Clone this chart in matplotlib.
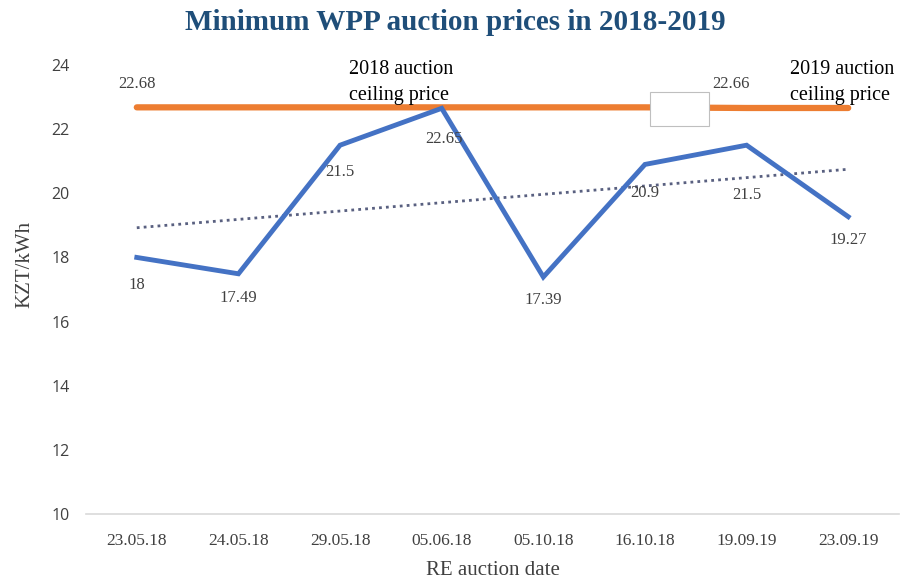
import matplotlib
matplotlib.use("Agg")
import matplotlib.pyplot as plt
import numpy as np
from matplotlib.patches import Rectangle
from matplotlib import font_manager as fm
import os

dates = ["23.05.18", "24.05.18", "29.05.18", "05.06.18", "05.10.18", "16.10.18", "19.09.19", "23.09.19"]
min_prices = [18, 17.49, 21.5, 22.65, 17.39, 20.9, 21.5, 19.27]
min_labels = ["18", "17.49", "21.5", "22.65", "17.39", "20.9", "21.5", "19.27"]
ceiling_2018 = 22.68
ceiling_2019 = 22.66
ceiling_prices = [22.68, 22.68, 22.68, 22.68, 22.68, 22.68, 22.66, 22.66]

serif = "Liberation Serif"

# pick upright bold serif file explicitly
title_fp = None
for f in fm.fontManager.ttflist:
    base = os.path.basename(f.fname).lower()
    if f.name == serif and "bold" in base and "italic" not in base:
        title_fp = fm.FontProperties(fname=f.fname, size=21)
        break
if title_fp is None:
    title_fp = fm.FontProperties(family=serif, weight="bold", style="normal", size=21)

fig = plt.figure(figsize=(9.05, 5.81), dpi=100)
ax = fig.add_axes([0.095, 0.1153, 0.8984, 0.7728])

x = np.arange(len(dates))
ax.plot(x, ceiling_prices, color="#ED7D31", lw=4.5, solid_capstyle="round", zorder=2)
ax.plot(x, min_prices, color="#4472C4", lw=3.5, solid_joinstyle="miter", zorder=3)

coef = np.polyfit(x, min_prices, 1)
ax.plot(x, np.polyval(coef, x), color="#596080", lw=2, ls=(0, (1, 1.5)), zorder=2)

# blank box
ax.add_patch(Rectangle((5.05, 22.1), 0.58, 1.05, facecolor="white", edgecolor="#BFBFBF", lw=0.8, zorder=4))

# data labels for min prices (offsets in data units)
offs = [-0.86, -0.76, -0.84, -0.95, -0.72, -0.9, -1.55, -0.73]
xoffs = [0, 0, 0, 0.02, 0, 0, 0, 0]
for i, (v, lab) in enumerate(zip(min_prices, min_labels)):
    ax.text(x[i] + xoffs[i], v + offs[i], lab, ha="center", va="center", fontsize=12,
            family=serif, color="#404040", zorder=5)

ax.text(0, 23.41, f"{ceiling_2018:.2f}", ha="center", va="center", fontsize=12, family=serif, color="#404040")
ax.text(5.85, 23.41, f"{ceiling_2019:.2f}", ha="center", va="center", fontsize=12, family=serif, color="#404040")

for xpos, yr in [(2.09, "2018"), (6.43, "2019")]:
    ax.text(xpos, 23.85, f"{yr} auction", ha="left", va="center", fontsize=14.5,
            family=serif, color="black")
    ax.text(xpos, 23.05, "ceiling price", ha="left", va="center", fontsize=14.5,
            family=serif, color="black")

ax.set_xlim(-0.5, 7.5)
ax.set_ylim(10, 24)
ax.set_yticks(range(10, 25, 2))
ax.set_xticks(x)
ax.set_xticklabels(dates, family=serif, fontsize=12.5, color="#404040")
for t in ax.get_yticklabels():
    t.set_family("Open Sans")
    t.set_fontsize(11.5)
    t.set_color("#404040")
ax.tick_params(axis="both", length=0)
ax.tick_params(axis="x", pad=14)
ax.tick_params(axis="y", pad=12)

for s in ["top", "right", "left"]:
    ax.spines[s].set_visible(False)
ax.spines["bottom"].set_color("#D9D9D9")
ax.spines["bottom"].set_linewidth(1.2)

ax.set_xlabel("RE auction date", family=serif, fontsize=15, color="#404040", labelpad=8)
fig.text(0.027, 0.545, "KZT/kWh", rotation=90, ha="center", va="center", family=serif,
         fontsize=15, color="#404040")

fig.text(0.503, 0.962, "Minimum WPP auction prices in 2018-2019", ha="center", va="center",
         fontproperties=title_fp, color="#1F4E79")

fig.savefig("out.png", dpi=100)
